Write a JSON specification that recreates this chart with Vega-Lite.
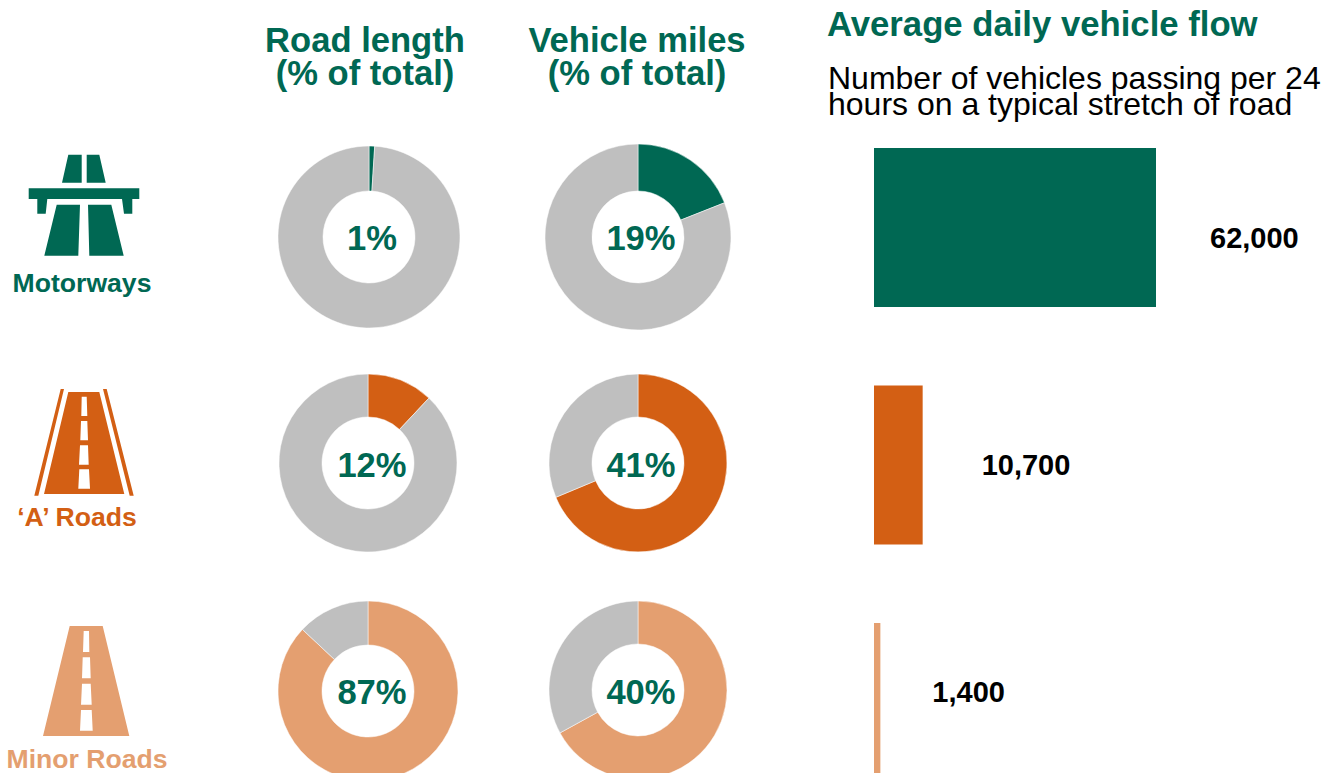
{"$schema":"https://vega.github.io/schema/vega-lite/v6.json","width":1331,"height":773,"padding":0,"autosize":{"type":"none"},"background":"white","config":{"view":{"stroke":null},"text":{"font":"Liberation Sans"}},
"datasets":{
"arcs":[
{"road":"Motorways","metric":"Road length","part":"Motorways","order":1,"value":1},
{"road":"Motorways","metric":"Road length","part":"Rest","order":2,"value":99},
{"road":"Motorways","metric":"Vehicle miles","part":"Motorways","order":1,"value":19},
{"road":"Motorways","metric":"Vehicle miles","part":"Rest","order":2,"value":81},
{"road":"A Roads","metric":"Road length","part":"A Roads","order":1,"value":12},
{"road":"A Roads","metric":"Road length","part":"Rest","order":2,"value":88},
{"road":"A Roads","metric":"Vehicle miles","part":"A Roads","order":1,"value":68.7},
{"road":"A Roads","metric":"Vehicle miles","part":"Rest","order":2,"value":31.3},
{"road":"Minor Roads","metric":"Road length","part":"Minor Roads","order":1,"value":87},
{"road":"Minor Roads","metric":"Road length","part":"Rest","order":2,"value":13},
{"road":"Minor Roads","metric":"Vehicle miles","part":"Minor Roads","order":1,"value":67},
{"road":"Minor Roads","metric":"Vehicle miles","part":"Rest","order":2,"value":33}],
"labels":[
{"road":"Motorways","metric":"Road length","label":"1%"},
{"road":"Motorways","metric":"Vehicle miles","label":"19%"},
{"road":"A Roads","metric":"Road length","label":"12%"},
{"road":"A Roads","metric":"Vehicle miles","label":"41%"},
{"road":"Minor Roads","metric":"Road length","label":"87%"},
{"road":"Minor Roads","metric":"Vehicle miles","label":"40%"}],
"flow":[
{"road":"Motorways","flow":62000,"label":"62,000"},
{"road":"A Roads","flow":10700,"label":"10,700"},
{"road":"Minor Roads","flow":1400,"label":"1,400"}],
"heads":[
{"metric":"Road length","title":["Road length","(% of total)"]},
{"metric":"Vehicle miles","title":["Vehicle miles","(% of total)"]}],
"names":[
{"road":"Motorways","name":"Motorways"},
{"road":"A Roads","name":"‘A’ Roads"},
{"road":"Minor Roads","name":"Minor Roads"}]},
"resolve":{"scale":{"x":"independent","y":"independent","theta":"independent"}},
"layer":[
{"data":{"name":"arcs"},"transform":[{"stack":"value","groupby":["road","metric"],"sort":[{"field":"order","order":"ascending"}],"as":["start","end"]}],
"encoding":{
"x":{"field":"metric","type":"nominal","axis":null,"sort":null,"scale":{"type":"point","padding":0,"domain":["Road length","Vehicle miles"],"range":[369,638]}},
"y":{"field":"road","type":"nominal","axis":null,"scale":{"type":"point","padding":0,"domain":["Motorways","A Roads","Minor Roads"],"range":[237,691]}},
"theta":{"field":"start","type":"quantitative","scale":{"domain":[0,100],"range":[0,6.283185]}},
"theta2":{"field":"end"},
"color":{"field":"part","type":"nominal","legend":null,"scale":{"domain":["Motorways","A Roads","Minor Roads","Rest"],"range":["#006853","#D35F14","#E49F70","#BFBFBF"]}}},
"layer":[
{"transform":[{"filter":"datum.road==='Motorways'&&datum.metric==='Road length'"}],"mark":{"type":"arc","radius":91,"radius2":46,"stroke":"white","strokeWidth":0.5}},
{"transform":[{"filter":"datum.road==='Motorways'&&datum.metric==='Vehicle miles'"}],"mark":{"type":"arc","radius":93,"radius2":46,"stroke":"white","strokeWidth":0.5}},
{"transform":[{"filter":"datum.road==='A Roads'&&datum.metric==='Road length'"}],"mark":{"type":"arc","radius":89,"radius2":46,"stroke":"white","strokeWidth":0.5,"xOffset":-1,"yOffset":-1}},
{"transform":[{"filter":"datum.road==='A Roads'&&datum.metric==='Vehicle miles'"}],"mark":{"type":"arc","radius":89,"radius2":46,"stroke":"white","strokeWidth":0.5,"yOffset":-1}},
{"transform":[{"filter":"datum.road==='Minor Roads'&&datum.metric==='Road length'"}],"mark":{"type":"arc","radius":90,"radius2":46,"stroke":"white","strokeWidth":0.5,"xOffset":-1}},
{"transform":[{"filter":"datum.road==='Minor Roads'&&datum.metric==='Vehicle miles'"}],"mark":{"type":"arc","radius":89,"radius2":46,"stroke":"white","strokeWidth":0.5,"yOffset":-1}}
]},
{"data":{"name":"labels"},"mark":{"type":"text","font":"Liberation Sans","fontWeight":"bold","fontSize":34.6,"fill":"#006853","dx":3,"dy":3},
"encoding":{
"x":{"field":"metric","type":"nominal","axis":null,"scale":{"type":"point","padding":0,"domain":["Road length","Vehicle miles"],"range":[369,638]}},
"y":{"field":"road","type":"nominal","axis":null,"scale":{"type":"point","padding":0,"domain":["Motorways","A Roads","Minor Roads"],"range":[237,691]}},
"text":{"field":"label"}}},
{"data":{"name":"flow"},"mark":{"type":"bar","height":159},
"encoding":{
"x":{"field":"flow","type":"quantitative","axis":null,"scale":{"domain":[0,62000],"range":[874,1156],"nice":false,"zero":true}},
"y":{"field":"road","type":"nominal","axis":null,"scale":{"type":"point","padding":0,"domain":["Motorways","A Roads","Minor Roads"],"range":[227.5,702.5]}},
"color":{"field":"road","type":"nominal","legend":null,"scale":{"domain":["Motorways","A Roads","Minor Roads","Rest"],"range":["#006853","#D35F14","#E49F70","#BFBFBF"]}}}},
{"data":{"name":"flow"},"transform":[{"filter":"datum.road==='Motorways'"}],"mark":{"type":"text","font":"Liberation Sans","fontWeight":"bold","fontSize":29,"align":"left","dx":54,"dy":1,"fill":"black"},
"encoding":{"x":{"field":"flow","type":"quantitative","axis":null,"scale":{"domain":[0,62000],"range":[874,1156],"nice":false}},"y":{"field":"road","type":"nominal","axis":null,"scale":{"type":"point","padding":0,"domain":["Motorways","A Roads","Minor Roads"],"range":[238,692]}},"text":{"field":"label"}}},
{"data":{"name":"flow"},"transform":[{"filter":"datum.road==='A Roads'"}],"mark":{"type":"text","font":"Liberation Sans","fontWeight":"bold","fontSize":29,"align":"left","dx":59,"dy":1,"fill":"black"},
"encoding":{"x":{"field":"flow","type":"quantitative","axis":null,"scale":{"domain":[0,62000],"range":[874,1156],"nice":false}},"y":{"field":"road","type":"nominal","axis":null,"scale":{"type":"point","padding":0,"domain":["Motorways","A Roads","Minor Roads"],"range":[238,692]}},"text":{"field":"label"}}},
{"data":{"name":"flow"},"transform":[{"filter":"datum.road==='Minor Roads'"}],"mark":{"type":"text","font":"Liberation Sans","fontWeight":"bold","fontSize":29,"align":"left","dx":52,"dy":1,"fill":"black"},
"encoding":{"x":{"field":"flow","type":"quantitative","axis":null,"scale":{"domain":[0,62000],"range":[874,1156],"nice":false}},"y":{"field":"road","type":"nominal","axis":null,"scale":{"type":"point","padding":0,"domain":["Motorways","A Roads","Minor Roads"],"range":[238,692]}},"text":{"field":"label"}}},
{"data":{"name":"names"},"mark":{"type":"point","filled":true,"opacity":1,"strokeWidth":0},
"encoding":{
"x":{"value":84},
"y":{"field":"road","type":"nominal","axis":null,"scale":{"type":"point","padding":0,"domain":["Motorways","A Roads","Minor Roads"],"range":[237,691]}},
"size":{"value":4},
"color":{"field":"road","type":"nominal","legend":null,"scale":{"domain":["Motorways","A Roads","Minor Roads","Rest"],"range":["#006853","#D35F14","#E49F70","#BFBFBF"]}},
"shape":{"field":"road","type":"nominal","legend":null,"scale":{"domain":["Motorways","A Roads","Minor Roads"],"range":[
"M-15.7,-82.3L-2.3,-82.3L-2.3,-54.3L-22,-54.3ZM2.7,-82.3L15.3,-82.3L21.7,-54.3L2.7,-54.3ZM-55.3,-48.7L55.3,-48.7L55.3,-38L48.3,-38L48.3,-23.3L40,-23.3L38,-38L-36.7,-38L-38.3,-23.3L-46.7,-23.3L-46.7,-38L-55.3,-38ZM-27.3,-32.3L-4,-32.3L-5.7,18.7L-39.7,18.7ZM4,-32.3L27.3,-32.3L39.7,18.7L5.3,18.7Z",
"M-23.3,-75L-20,-75L-45.7,31.7L-49.7,31.7ZM19,-75L22.7,-75L49.7,31.7L45.7,31.7ZM-15.7,-72L15.3,-72L40.3,30L-40,30ZM-2.3,-67.3L-2.7,-48L3.3,-48L2.7,-67.3ZM-3,-43L-3.7,-23.7L4,-23.7L3.3,-43ZM-4,-18.7L-5,0.7L4.7,0.7L4,-18.7ZM-4.7,5.3L-5.7,24.7L6,24.7L5,5.3Z",
"M-14.3,-65L18.7,-65L45.3,45L-41,45ZM-0.3,-60L-1,-39L5.3,-39L5,-60ZM-1.3,-33.7L-2,-12.7L6.7,-12.7L6,-33.7ZM-2,-7.3L-3,13.7L7.7,13.7L6.7,-7.3ZM-3,19L-4,39.7L8.7,39.7L7.7,19Z"]}}}},
{"data":{"name":"names"},"transform":[{"filter":"datum.road==='Motorways'"}],"mark":{"type":"text","font":"Liberation Sans","fontWeight":"bold","fontSize":26.6,"x":82,"y":292,"baseline":"alphabetic","fill":"#006853"},"encoding":{"text":{"field":"name"}}},
{"data":{"name":"names"},"transform":[{"filter":"datum.road==='A Roads'"}],"mark":{"type":"text","font":"Liberation Sans","fontWeight":"bold","fontSize":26.6,"x":77,"y":526,"baseline":"alphabetic","fill":"#D35F14"},"encoding":{"text":{"field":"name"}}},
{"data":{"name":"names"},"transform":[{"filter":"datum.road==='Minor Roads'"}],"mark":{"type":"text","font":"Liberation Sans","fontWeight":"bold","fontSize":26.6,"x":87,"y":768,"baseline":"alphabetic","fill":"#E49F70"},"encoding":{"text":{"field":"name"}}},
{"data":{"name":"heads"},"transform":[{"filter":"datum.metric==='Road length'"}],"mark":{"type":"text","font":"Liberation Sans","fontWeight":"bold","fontSize":34.6,"x":365,"y":52,"baseline":"alphabetic","lineHeight":33,"fill":"#006853"},"encoding":{"text":{"field":"title"}}},
{"data":{"name":"heads"},"transform":[{"filter":"datum.metric==='Vehicle miles'"}],"mark":{"type":"text","font":"Liberation Sans","fontWeight":"bold","fontSize":34.6,"x":637,"y":52,"baseline":"alphabetic","lineHeight":33,"fill":"#006853"},"encoding":{"text":{"field":"title"}}},
{"data":{"values":[{"t":"Average daily vehicle flow"}]},"mark":{"type":"text","font":"Liberation Sans","fontWeight":"bold","fontSize":34.7,"x":827,"y":36,"align":"left","baseline":"alphabetic","fill":"#006853"},"encoding":{"text":{"field":"t"}}},
{"data":{"values":[{"t":["Number of vehicles passing per 24","hours on a typical stretch of road"]}]},"mark":{"type":"text","font":"Liberation Sans","fontSize":32,"x":828,"y":89,"align":"left","baseline":"alphabetic","lineHeight":26,"fill":"black"},"encoding":{"text":{"field":"t"}}}
]}
